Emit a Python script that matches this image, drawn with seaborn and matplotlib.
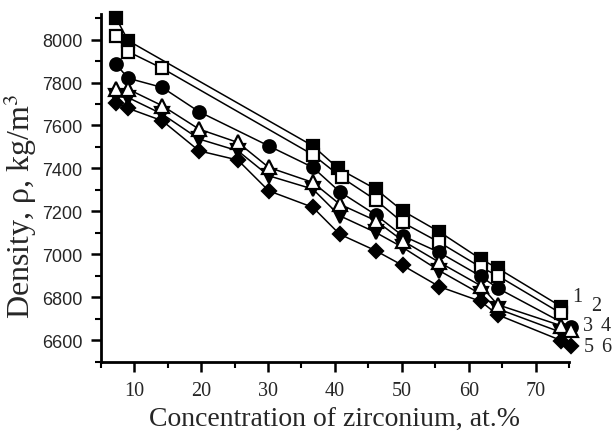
import matplotlib
matplotlib.use("Agg")
import matplotlib.pyplot as plt
import seaborn as sns
import numpy as np
from matplotlib.ticker import MultipleLocator

# ---- data ----
x1 = [7.3, 9.1, 36.7, 40.5, 46.1, 50.1, 55.6, 61.8, 64.3, 73.8]
y1 = [8100, 7995, 7505, 7400, 7304, 7203, 7105, 6978, 6936, 6757]

x2 = [7.3, 9.1, 14.2, 36.7, 41.0, 46.1, 50.1, 55.6, 61.8, 64.3, 73.8]
y2 = [8015, 7944, 7866, 7464, 7358, 7253, 7149, 7056, 6940, 6901, 6725]

x3 = [7.3, 9.1, 14.2, 19.7, 30.1, 36.7, 40.7, 46.1, 50.1, 55.6, 61.8, 64.3, 75.3]
y3 = [7885, 7820, 7777, 7664, 7505, 7405, 7292, 7184, 7087, 7009, 6898, 6843, 6660]

x4 = [7.3, 9.1, 14.2, 19.7, 25.5, 30.1, 36.7, 40.7, 46.1, 50.1, 55.6, 61.8, 64.3, 73.8, 75.3]
y4 = [7772, 7769, 7692, 7583, 7521, 7405, 7335, 7234, 7157, 7064, 6963, 6854, 6766, 6668, 6647]

x5 = [7.3, 9.1, 14.2, 19.7, 25.5, 30.1, 36.7, 40.7, 46.1, 50.1, 55.6, 61.8, 64.3, 73.8]
y5 = [7735, 7730, 7653, 7537, 7482, 7366, 7304, 7180, 7102, 7033, 6924, 6815, 6747, 6637]

x6 = [7.3, 9.1, 14.2, 19.7, 25.5, 30.1, 36.7, 40.7, 46.1, 50.1, 55.6, 61.8, 64.3, 73.8, 75.3]
y6 = [7707, 7680, 7622, 7482, 7439, 7296, 7219, 7094, 7017, 6949, 6850, 6781, 6719, 6599, 6575]

curve_labels = ["1", "2", "3", "4", "5", "6"]
x_ticks = [10, 20, 30, 40, 50, 60, 70]
y_ticks = [6600, 6800, 7000, 7200, 7400, 7600, 7800, 8000]

sns.set_theme(style="ticks")
plt.rcParams["mathtext.fontset"] = "stix"

fig = plt.figure(figsize=(6.14, 4.35), dpi=100)
ax = fig.add_axes([0.164, 0.166, 0.763, 0.800])

styles = {
    "1": dict(marker="s", mfc="black", ms=8.5),
    "2": dict(marker="s", mfc="white", ms=8.5),
    "3": dict(marker="o", mfc="black", ms=9.0),
    "4": dict(marker="^", mfc="white", ms=9.5),
    "5": dict(marker="v", mfc="black", ms=9.5),
    "6": dict(marker="D", mfc="black", ms=7.5),
}
data = {"1": (x1, y1), "2": (x2, y2), "3": (x3, y3),
        "4": (x4, y4), "5": (x5, y5), "6": (x6, y6)}
order = ["1", "2", "3", "6", "5", "4"]
for z, key in enumerate(order):
    xs, ys = data[key]
    st = styles[key]
    sns.lineplot(x=xs, y=ys, ax=ax, color="black", linewidth=1.1,
                 marker=st["marker"], markersize=st["ms"],
                 markerfacecolor=st["mfc"], markeredgecolor="black",
                 markeredgewidth=1.6, clip_on=False, zorder=3 + z,
                 legend=False, estimator=None, sort=True)

ax.set_xlim(5, 75)
ax.set_ylim(6500, 8120)
ax.set_xticks(x_ticks)
ax.set_yticks(y_ticks)
ax.xaxis.set_minor_locator(MultipleLocator(5))
ax.yaxis.set_minor_locator(MultipleLocator(100))

for s in ["top", "right"]:
    ax.spines[s].set_visible(False)
for s in ["left", "bottom"]:
    ax.spines[s].set_linewidth(2.0)
    ax.spines[s].set_color("black")

ax.tick_params(axis="both", which="major", direction="out", length=7,
               width=1.8, color="black")
ax.tick_params(axis="both", which="minor", direction="out", length=4,
               width=1.5, color="black")
ax.tick_params(axis="y", labelsize=13, pad=6)
ax.tick_params(axis="x", labelsize=14.5, pad=7)
for lab in ax.get_yticklabels():
    lab.set_fontfamily("Liberation Sans")
for lab in ax.get_xticklabels():
    lab.set_fontfamily("Liberation Serif")

ax.set_xlabel("Concentration of zirconium, at.%", fontsize=20,
              family="Liberation Serif", labelpad=5)
ax.set_ylabel(r"Density, ρ, kg/m$^3$", fontsize=23,
              family="Liberation Serif")
ax.yaxis.set_label_coords(-0.132, 0.45)

# curve numbers at the right end
label_pos = [(1.017, 0.187), (1.058, 0.161), (1.041, 0.103),
             (1.078, 0.103), (1.041, 0.043), (1.078, 0.043)]
for lab, (px, py) in zip(curve_labels, label_pos):
    ax.text(px, py, lab, transform=ax.transAxes, fontsize=14.5,
            family="Liberation Serif", ha="center", va="center")

fig.savefig("out.png", dpi=100)
